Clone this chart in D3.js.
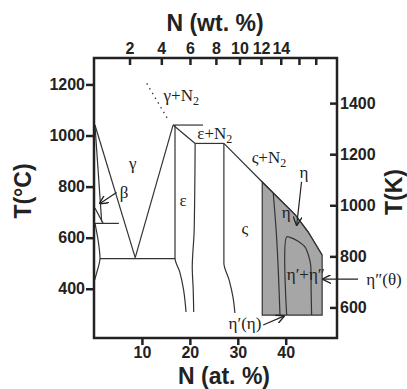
<!DOCTYPE html>
<html>
<head>
<meta charset="utf-8">
<script src="https://cdn.jsdelivr.net/npm/d3@7"></script>
<style>
  body { margin: 0; background: #fff; }
  .tick text { font-family: "Liberation Sans", Arial, sans-serif; font-weight: bold; font-size: 16px; fill: #222; }
  .tick line { stroke: #222; stroke-width: 2.5px; }
  .title { font-family: "Liberation Sans", Arial, sans-serif; font-weight: bold; font-size: 23px; fill: #222; }
  .lab { font-family: "Liberation Serif", "Times New Roman", serif; font-size: 17px; fill: #222; }
  .phase { fill: none; stroke: #333; stroke-width: 1.2px; }
</style>
</head>
<body>
<svg width="407" height="389"></svg>
<script>
// axis ticks
const atTicks = [10, 20, 30, 40];
const wtTicks = [2, 4, 6, 8, 10, 12, 14, 16, 18];
const wtLabelled = [2, 4, 6, 8, 10, 12, 14];
const cTicks = [400, 600, 800, 1000, 1200];
const kTicks = [600, 800, 1000, 1200, 1400];

// phase boundaries, [N at.%, T degC]
const gammaLeft = [[0.2, 1041], [8.6, 522]];
const betaGamma = [[0.2, 1041], [1.6, 663]];
const gammaRight = [[8.6, 522], [16.5, 1041]];
const epsTop = [[16.5, 1041], [22.75, 1041]];
const epsLeft = [[16.9, 1041], [16.9, 520], [17.9, 465], [18.7, 395], [19.2, 309]];
const epsDiag = [[16.5, 1041], [21.1, 969]];
const epsRight = [[21.1, 969], [20.9, 629], [20.5, 485], [20.7, 395], [20.8, 309]];
const epsN2Base = [[21.1, 969], [27.1, 969]];
const zetaLeft = [[27.1, 969], [27.1, 501], [28.2, 434], [29.0, 367], [29.4, 305]];
const zetaN2 = [[27.1, 969], [35.1, 818], [42.0, 689], [44.7, 622], [47.6, 532]];
const etaRegion = [[35.1, 818], [42.0, 689], [44.7, 622], [47.6, 532], [47.6, 297], [35.1, 297]];
const etaInner = [[37.4, 774], [38.0, 630], [38.8, 297]];
const dome = [[40.2, 297], [40.2, 603], [40.9, 601], [42.5, 587], [44.0, 564], [44.8, 528], [45.2, 493], [45.3, 395], [45.4, 297]];
const betaSmall = [[0.2, 716], [1.9, 656]];
const betaFloor = [[0.2, 656], [5.2, 656]];
const eutectoid = [[1.25, 518], [16.9, 518]];
const alphaCurve = [[0.2, 657], [1.0, 571], [1.25, 520], [0.6, 465], [0, 426]];
const gammaN2Dots = [[11.0, 1204], [15.5, 1061]];

// labels [text, sub, at%, T]
const labels = [
  ['γ+N', '2', 18.2, 1159],
  ['γ', '', 8.1, 892],
  ['β', '', 6.3, 779],
  ['ε', '', 18.6, 748],
  ['ε+N', '2', 25.2, 1010],
  ['ς+N', '2', 36.5, 916],
  ['ς', '', 31.5, 638],
  ['η', '', 43.8, 857],
  ['η', '', 40.1, 700],
  ['η′+η″', '', 44.2, 458],
  ['η″(θ)', '', 60.5, 438],
  ['η′(η)', '', 31.5, 266]
];
// arrows [from, to]
const arrows = [
  [[4.7, 777], [1.25, 734]],
  [[43.3, 819], [42.3, 650]],
  [[55.1, 438], [47.8, 438]],
  [[35.3, 258], [39.6, 293]]
];

const svg = d3.select('svg');
const x = d3.scaleLinear().domain([0, 50.7]).range([94, 337]);
const y = d3.scaleLinear().domain([207.2, 1303.5]).range([338, 58]);

// wt.% to at.% for Mn-N
const wtToAt = w => (w / 14.007) / (w / 14.007 + (100 - w) / 54.938) * 100;

svg.append('path')
  .attr('d', d3.line().x(d => x(d[0])).y(d => y(d[1]))(etaRegion) + 'Z')
  .attr('fill', '#a6a6a6')
  .attr('stroke', '#333')
  .attr('stroke-width', 1.2);

const line = d3.line().x(d => x(d[0])).y(d => y(d[1]));
const smooth = d3.line().x(d => x(d[0])).y(d => y(d[1])).curve(d3.curveMonotoneY);
const round = d3.line().x(d => x(d[0])).y(d => y(d[1])).curve(d3.curveCatmullRom);

[gammaLeft, betaGamma, gammaRight, epsTop, epsDiag, epsN2Base, zetaN2, betaSmall, betaFloor, eutectoid]
  .forEach(d => svg.append('path').attr('class', 'phase').attr('d', line(d)));
[epsLeft, epsRight, zetaLeft, etaInner, alphaCurve]
  .forEach(d => svg.append('path').attr('class', 'phase').attr('d', smooth(d)));
svg.append('path').attr('class', 'phase').attr('d', round(dome));
svg.append('path').attr('class', 'phase')
  .attr('d', line(gammaN2Dots))
  .attr('stroke-dasharray', '1.5,4');

svg.append('defs').append('marker')
  .attr('id', 'head')
  .attr('viewBox', '0 0 10 10')
  .attr('refX', 9).attr('refY', 5)
  .attr('markerWidth', 9).attr('markerHeight', 9)
  .attr('markerUnits', 'userSpaceOnUse')
  .attr('orient', 'auto')
  .append('path')
  .attr('d', 'M0,0L10,5L0,10')
  .attr('fill', 'none')
  .attr('stroke', '#222')
  .attr('stroke-width', 1.5);

arrows.forEach(a => {
  svg.append('line')
    .attr('x1', x(a[0][0])).attr('y1', y(a[0][1]))
    .attr('x2', x(a[1][0])).attr('y2', y(a[1][1]))
    .attr('stroke', '#222').attr('stroke-width', 1.2)
    .attr('marker-end', 'url(#head)');
});

labels.forEach(l => {
  const t = svg.append('text')
    .attr('class', 'lab')
    .attr('x', x(l[2])).attr('y', y(l[3]))
    .attr('text-anchor', 'middle')
    .attr('dy', '0.35em')
    .text(l[0]);
  if (l[1]) t.append('tspan').attr('font-size', '12px').attr('dy', 4).text(l[1]);
});

// axes
svg.append('g')
  .attr('transform', 'translate(0,338)')
  .call(d3.axisBottom(x).tickValues(atTicks).tickSize(7).tickPadding(2).tickSizeOuter(0))
  .call(g => g.select('.domain').remove());

svg.append('g')
  .attr('transform', 'translate(0,58)')
  .call(d3.axisTop(x).tickValues(wtTicks.map(wtToAt)).tickSize(-7).tickPadding(4)
    .tickFormat((d, i) => wtLabelled.includes(wtTicks[i]) ? wtTicks[i] : ''))
  .call(g => g.select('.domain').remove());

svg.append('g')
  .attr('transform', 'translate(94,0)')
  .call(d3.axisLeft(y).tickValues(cTicks).tickSize(8).tickPadding(1).tickFormat(d3.format('d')))
  .call(g => g.select('.domain').remove());

svg.append('g')
  .attr('transform', 'translate(337,0)')
  .call(d3.axisRight(y).tickValues(kTicks.map(k => k - 273.15)).tickSize(-7).tickPadding(3)
    .tickFormat((d, i) => kTicks[i]))
  .call(g => g.select('.domain').remove());

svg.append('rect')
  .attr('x', 94).attr('y', 58).attr('width', 243).attr('height', 280)
  .attr('fill', 'none').attr('stroke', '#222').attr('stroke-width', 2.5);

svg.append('text').attr('class', 'title')
  .attr('x', 215).attr('y', 31).attr('text-anchor', 'middle').text('N (wt. %)');
svg.append('text').attr('class', 'title')
  .attr('x', 224).attr('y', 384).attr('text-anchor', 'middle').text('N (at. %)');
svg.append('text').attr('class', 'title')
  .attr('transform', 'translate(31,191) rotate(-90)')
  .attr('text-anchor', 'middle').text('T(°C)');
svg.append('text').attr('class', 'title')
  .attr('transform', 'translate(402,192) rotate(-90)')
  .attr('text-anchor', 'middle').text('T(K)');
</script>
</body>
</html>
